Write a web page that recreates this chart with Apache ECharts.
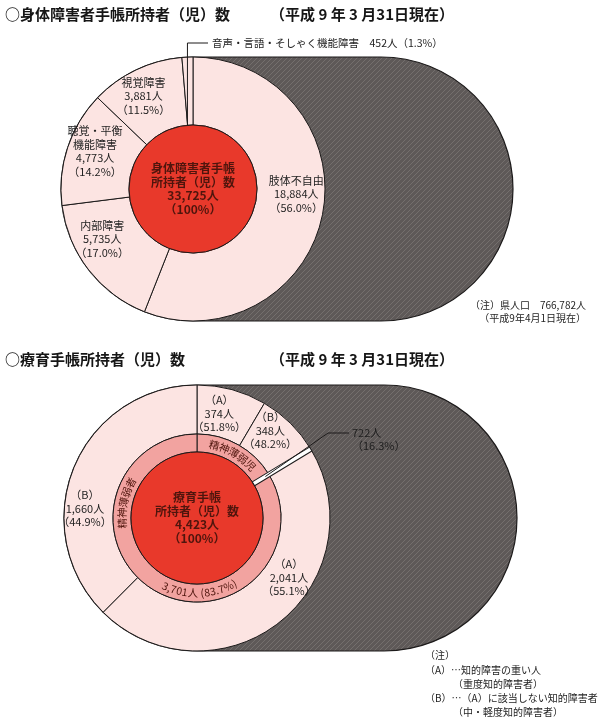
<!DOCTYPE html>
<html><head><meta charset="utf-8">
<script src="https://cdn.jsdelivr.net/npm/echarts@6/dist/echarts.min.js"></script>
<style>html,body{margin:0;padding:0;background:#fff}#c{width:600px;height:724px}</style>
</head><body><div id="c"></div>
<script>
// ---- data ----
const topNames = ['肢体不自由', '内部障害', '聴覚・平衡\n機能障害', '視覚障害', '音声・言語・そしゃく機能障害'];
const topValues = [18884, 5735, 4773, 3881, 452];
const topPercents = ['56.0%', '17.0%', '14.2%', '11.5%', '1.3%'];
const topTotal = 33725;
const prefPopulation = 766782;

const innerNames = ['精神薄弱児', '精神薄弱者'];
const innerValues = [722, 3701];
const innerPercents = ['16.3%', '83.7%'];
const outerNames = ['（A）', '（B）', '（A）', '（B）'];
const outerValues = [374, 348, 2041, 1660];
const outerPercents = ['51.8%', '48.2%', '55.1%', '44.9%'];
const ryoikuTotal = 4423;

// ---- layout / style ----
const FONT = '"Noto Sans CJK JP", "Noto Sans", sans-serif';
const T = {cx: 193, cy: 189, r0: 64, R: 132, right: 513};
const B = {cx: 197, cy: 518, r0: 66, r1: 84, R: 133, right: 517};
const LIGHT = '#fce4e2', MID = '#f2a3a0', RED = '#e8392b', DARK = '#5e5958';
const LINE = '#1c1a1a', TXT = '#1e1e1e', CTXT = '#4f150d';
const topLabelOffsets = [[4, -14], [-11, -12], [-2, -6], [-6, -2], [0, 0]];
const outerLabelOffsets = [[-7, 3], [-5, -8], [23, -28], [-9, 33]];

const fmt = n => n.toLocaleString('en-US');

function hatch() {
  const c = document.createElement('canvas'); c.width = 5; c.height = 5;
  const g = c.getContext('2d');
  g.fillStyle = DARK; g.fillRect(0, 0, 5, 5);
  g.strokeStyle = 'rgba(135,130,128,0.55)'; g.lineWidth = 1;
  g.beginPath(); g.moveTo(-1, 6); g.lineTo(6, -1); g.stroke();
  return c;
}
const pat = {image: hatch(), repeat: 'repeat'};

const mctx = document.createElement('canvas').getContext('2d');
function arcText(str, cx, cy, r, centerDeg, outward, size) {
  mctx.font = size + 'px ' + FONT;
  const chars = [...str];
  const ws = chars.map(ch => mctx.measureText(ch).width);
  const W = ws.reduce((a, b) => a + b, 0);
  const span = W / r, c = centerDeg * Math.PI / 180;
  let acc = 0; const out = [];
  chars.forEach((ch, i) => {
    const mid = (acc + ws[i] / 2) / r; acc += ws[i];
    const th = outward ? c - span / 2 + mid : c + span / 2 - mid;
    out.push({type: 'text', x: cx + r * Math.sin(th), y: cy - r * Math.cos(th),
      rotation: outward ? -th : -(th + Math.PI), z: 120,
      style: {text: ch, fontSize: size, fontFamily: FONT, fill: CTXT, align: 'center', verticalAlign: 'middle'}});
  });
  return out;
}
function txt(x, y, text, size, opt) {
  return Object.assign({type: 'text', x, y, z: 120,
    style: Object.assign({text, fontSize: size, fontFamily: FONT, fill: TXT, align: 'left', verticalAlign: 'middle'}, opt || {})});
}

const baseLabel = {fontFamily: FONT, fontSize: 11, lineHeight: 13.5, color: TXT, align: 'center'};
const border = {borderColor: LINE, borderWidth: 1};
const titleStyle = {fontWeight: 'bold', fill: '#161616'};

// angles
const topSmallMid = (1 - topValues[4] / 2 / topTotal) * 2 * Math.PI;
const gapAng = innerValues[0] / ryoikuTotal * 2 * Math.PI;
const leadX = T.cx + T.R * Math.sin(topSmallMid);

const graphics = [
  // population backdrop shapes
  {type: 'rect', z: 0, shape: {x: T.cx - T.R, y: T.cy - T.R, width: T.right - (T.cx - T.R), height: 2 * T.R, r: T.R},
    style: {fill: pat, stroke: LINE, lineWidth: 1.2}},
  {type: 'rect', z: 0, shape: {x: B.cx - B.R, y: B.cy - B.R, width: B.right - (B.cx - B.R), height: 2 * B.R, r: B.R},
    style: {fill: pat, stroke: LINE, lineWidth: 1.2}},
  // titles
  txt(5, 14, '○身体障害者手帳所持者（児）数', 15, titleStyle),
  txt(270, 14, '（平成 9 年 3 月31日現在）', 15, titleStyle),
  txt(5, 359, '○療育手帳所持者（児）数', 15, titleStyle),
  txt(270, 359, '（平成 9 年 3 月31日現在）', 15, titleStyle),
  // small slice leader
  {type: 'polyline', z: 110, shape: {points: [[leadX, T.cy - T.r0], [leadX, 43], [208, 43]]},
    style: {stroke: LINE, lineWidth: 1, fill: null}},
  txt(212, 43, '音声・言語・そしゃく機能障害　' + fmt(topValues[4]) + '人（' + topPercents[4] + '）', 10.5),
  // population note
  txt(586, 305, '（注）県人口　' + fmt(prefPopulation) + '人', 10, {align: 'right'}),
  txt(586, 318, '（平成9年4月1日現在）', 10, {align: 'right'}),
  // gap band between 児 and 者
  {type: 'rect', x: B.cx, y: B.cy, rotation: Math.PI / 2 - gapAng, z: 100,
    shape: {x: B.r0, y: -2.3, width: B.R - B.r0, height: 4.6}, style: {fill: '#fff', stroke: LINE, lineWidth: 1}},
  // leader for 児 total
  {type: 'polyline', z: 110, shape: {points: [[B.cx + 80 * Math.sin(gapAng), B.cy - 80 * Math.cos(gapAng)], [328, 433], [349, 433]]},
    style: {stroke: LINE, lineWidth: 1, fill: null}},
  txt(352, 433, fmt(innerValues[0]) + '人', 11),
  txt(352, 446, '（' + innerPercents[0] + '）', 11),
  // notes
  txt(425, 655, '（注）', 10),
  txt(425, 670, '（A）…知的障害の重い人', 10),
  txt(453, 684, '（重度知的障害者）', 10),
  txt(425, 698, '（B）…（A）に該当しない知的障害者', 10),
  txt(453, 712, '（中・軽度知的障害者）', 10)
]
.concat(arcText(innerNames[0], B.cx, B.cy, (B.r0 + B.r1) / 2, gapAng * 90 / Math.PI, true, 10.5))
.concat(arcText(innerNames[1], B.cx, B.cy, (B.r0 + B.r1) / 2, 282, true, 10.5))
.concat(arcText(fmt(innerValues[1]) + '人 (' + innerPercents[1] + ')', B.cx, B.cy, (B.r0 + B.r1) / 2, 178, false, 10.5));

const common = {type: 'pie', startAngle: 90, clockwise: true, silent: true, animation: false,
  emphasis: {disabled: true}, labelLine: {show: false}, avoidLabelOverlap: false};
const centerLabel = Object.assign({}, baseLabel, {show: true, position: 'center', fontSize: 12, lineHeight: 13.5,
  color: CTXT, fontWeight: 'bold'});

const option = {
  backgroundColor: '#fff',
  animation: false,
  series: [
    Object.assign({}, common, {
      center: [T.cx, T.cy], radius: [T.r0, T.R], z: 2,
      itemStyle: Object.assign({color: LIGHT}, border),
      label: Object.assign({show: true, position: 'inside',
        formatter: p => topNames[p.dataIndex] + '\n' + fmt(p.value) + '人\n（' + topPercents[p.dataIndex] + '）'}, baseLabel),
      labelLayout: p => ({dx: topLabelOffsets[p.dataIndex][0], dy: topLabelOffsets[p.dataIndex][1]}),
      data: topValues.map((v, i) => ({value: v, name: topNames[i], label: i === 4 ? {show: false} : undefined}))
    }),
    Object.assign({}, common, {
      center: [T.cx, T.cy], radius: [0, T.r0], z: 3,
      itemStyle: Object.assign({color: RED}, border),
      label: Object.assign({}, centerLabel, {formatter: () => '身体障害者手帳\n所持者（児）数\n' + fmt(topTotal) + '人\n（100%）'}),
      data: [{value: topTotal, name: '合計'}]
    }),
    Object.assign({}, common, {
      center: [B.cx, B.cy], radius: [B.r1, B.R], z: 2,
      itemStyle: Object.assign({color: LIGHT}, border),
      label: Object.assign({show: true, position: 'inside',
        formatter: p => outerNames[p.dataIndex] + '\n' + fmt(p.value) + '人\n（' + outerPercents[p.dataIndex] + '）'}, baseLabel),
      labelLayout: p => ({dx: outerLabelOffsets[p.dataIndex][0], dy: outerLabelOffsets[p.dataIndex][1]}),
      data: outerValues.map((v, i) => ({value: v, name: outerNames[i] + i}))
    }),
    Object.assign({}, common, {
      center: [B.cx, B.cy], radius: [B.r0, B.r1], z: 3,
      itemStyle: Object.assign({color: MID}, border),
      label: {show: false},
      data: innerValues.map((v, i) => ({value: v, name: innerNames[i]}))
    }),
    Object.assign({}, common, {
      center: [B.cx, B.cy], radius: [0, B.r0], z: 3,
      itemStyle: Object.assign({color: RED}, border),
      label: Object.assign({}, centerLabel, {formatter: () => '療育手帳\n所持者（児）数\n' + fmt(ryoikuTotal) + '人\n（100%）'}),
      data: [{value: ryoikuTotal, name: '合計'}]
    })
  ],
  graphic: {elements: graphics}
};
const chart = echarts.init(document.getElementById('c'));
chart.setOption(option);
</script></body></html>
